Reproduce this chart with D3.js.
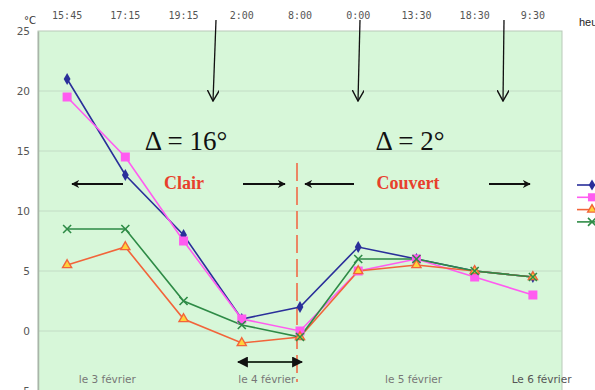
<!DOCTYPE html>
<html><head><meta charset="utf-8">
<script src="https://cdn.jsdelivr.net/npm/d3@7"></script>
<style>body{margin:0;background:#fff}svg{display:block}</style>
</head><body>
<svg id="c" width="595" height="390"></svg>
<script>
const times = ["15:45","17:15","19:15","2:00","8:00","0:00","13:30","18:30","9:30"];
const yTicks = [-5,0,5,10,15,20,25];
const dayLabels = ["le 3 février","le 4 février","le 5 février","Le 6 février"];
const dayPos = [1.19,3.93,6.45,8.65];
const seriesBlue = [21,13,8,1,2,7,6,5,4.5];
const seriesPink = [19.5,14.5,7.5,1,0,5,6,4.5,3];
const seriesOrange = [5.5,7,1,-1,-0.5,5,5.5,5,4.5];
const seriesGreen = [8.5,8.5,2.5,0.5,-0.5,6,6,5,4.5];
const series = [
  {name:"blue", values:seriesBlue, color:"#2a2f9a", marker:"diamond"},
  {name:"pink", values:seriesPink, color:"#ff5cf0", marker:"square"},
  {name:"orange", values:seriesOrange, color:"#f2643a", marker:"triangle"},
  {name:"green", values:seriesGreen, color:"#2e8b46", marker:"cross"}
];

const svg = d3.select("#c");
const L=38, R=562, T=31, B=391;
const x = d3.scaleBand().domain(d3.range(times.length)).range([L,R]);
const xc = i => x(i)+x.bandwidth()/2;
const xl = d3.scaleLinear().domain([0,times.length]).range([L,R]);
const y = d3.scaleLinear().domain([-5,25]).range([B,T]);

svg.append("defs").html(`
<marker id="ah" viewBox="0 0 10 10" refX="9" refY="5" markerWidth="8" markerHeight="8" orient="auto-start-reverse" markerUnits="userSpaceOnUse"><path d="M0,0 L10,5 L0,10 L3,5 Z" fill="#111"/></marker>
<marker id="ah2" viewBox="0 0 10 10" refX="9" refY="5" markerWidth="11" markerHeight="11" orient="auto-start-reverse" markerUnits="userSpaceOnUse"><path d="M0,0 L10,5 L0,10 Z" fill="#111"/></marker>
<marker id="av" viewBox="0 0 10 10" refX="9" refY="5" markerWidth="12" markerHeight="12" orient="auto" markerUnits="userSpaceOnUse"><path d="M0,0 L9,5 L0,10" fill="none" stroke="#111" stroke-width="1.2"/></marker>`);

// plot background
svg.append("rect").attr("x",L).attr("y",T).attr("width",R-L).attr("height",B-T)
  .attr("fill","#d7f7d9").attr("stroke","#b9c9b9").attr("stroke-width",1);
// grid
svg.append("g").selectAll("line").data(yTicks.filter(d=>d>-5&&d<25)).join("line")
  .attr("x1",L).attr("x2",R).attr("y1",d=>y(d)).attr("y2",d=>y(d))
  .attr("stroke","#c3dcc5").attr("stroke-width",1);
// left axis
const yAxis = svg.append("g").attr("transform",`translate(${L},0)`)
  .call(d3.axisLeft(y).tickValues(yTicks).tickSize(0).tickPadding(8));
yAxis.select(".domain").attr("stroke","#a9b5a9").attr("stroke-width",1.5);
yAxis.selectAll("text").attr("fill","#555").attr("font-family","DejaVu Sans").attr("font-size",10.5);
svg.append("text").attr("x",24).attr("y",24).text("°C").attr("font-family","DejaVu Sans").attr("font-size",10).attr("fill","#333");

// top time labels
const topAxis = svg.append("g").attr("transform","translate(0,19)")
  .call(d3.axisTop(x).tickFormat(i=>times[i]).tickSize(0).tickPadding(0));
topAxis.select(".domain").remove();
topAxis.selectAll("text").attr("fill","#555").attr("font-family","DejaVu Sans Mono, DejaVu Sans").attr("font-size",10);
svg.append("text").attr("x",579).attr("y",26).text("heure").attr("font-family","Liberation Sans").attr("font-size",11).attr("fill","#222");

// bottom day labels
svg.append("g").selectAll("text").data(dayLabels).join("text")
  .attr("x",(d,i)=>xl(dayPos[i])).attr("y",383).attr("text-anchor","middle")
  .attr("font-family","DejaVu Sans").attr("font-size",10.5)
  .attr("fill",(d,i)=>i===3?"#555":"#777").text(d=>d);

// red dashed separator
svg.append("line").attr("x1",297).attr("x2",297).attr("y1",y(14)).attr("y2",382)
  .attr("stroke","#f06a48").attr("stroke-width",1.6).attr("stroke-dasharray","18,6");

// lines
const line = d3.line().x((d,i)=>xc(i)).y(d=>y(d));
const g = svg.append("g");
series.forEach(s=>{
  g.append("path").attr("d",line(s.values)).attr("fill","none").attr("stroke",s.color).attr("stroke-width",1.6);
});
function drawMarker(sel, s, cx, cy, sc){
  sc = sc||1;
  if(s.marker==="diamond") sel.append("path").attr("d",d3.symbol(d3.symbolDiamond,40*sc)()).attr("transform",`translate(${cx},${cy})`).attr("fill",s.color);
  else if(s.marker==="square") sel.append("rect").attr("x",cx-4.5*sc).attr("y",cy-4.5*sc).attr("width",9*sc).attr("height",9*sc).attr("fill",s.color);
  else if(s.marker==="triangle") sel.append("path").attr("d",d3.symbol(d3.symbolTriangle,36*sc)()).attr("transform",`translate(${cx},${cy})`).attr("fill","#ffd23a").attr("stroke",s.color).attr("stroke-width",1.4);
  else sel.append("path").attr("d",`M${cx-4},${cy-4}L${cx+4},${cy+4}M${cx-4},${cy+4}L${cx+4},${cy-4}`).attr("stroke",s.color).attr("stroke-width",1.6);
}
series.forEach(s=>{ s.values.forEach((v,i)=>drawMarker(g,s,xc(i),y(v))); });

// vertical arrows from top
const va = [[216,213],[360,358],[504,503]];
va.forEach(a=>svg.append("line").attr("x1",a[0]).attr("y1",20).attr("x2",a[1]).attr("y2",101)
  .attr("stroke","#111").attr("stroke-width",1.3).attr("marker-end","url(#av)"));

// delta texts
svg.append("text").attr("x",186).attr("y",150).attr("text-anchor","middle").text("Δ = 16°")
  .attr("font-family","Liberation Serif").attr("font-size",27).attr("fill","#111");
svg.append("text").attr("x",410).attr("y",150).attr("text-anchor","middle").text("Δ = 2°")
  .attr("font-family","Liberation Serif").attr("font-size",27).attr("fill","#111");
svg.append("text").attr("x",184).attr("y",189).attr("text-anchor","middle").text("Clair")
  .attr("font-family","Liberation Serif").attr("font-weight","bold").attr("font-size",18).attr("fill","#e8402c");
svg.append("text").attr("x",408).attr("y",189).attr("text-anchor","middle").text("Couvert")
  .attr("font-family","Liberation Serif").attr("font-weight","bold").attr("font-size",18).attr("fill","#e8402c");

// horizontal arrows
const ha = [[123,72],[243,285],[354,305],[489,530]];
ha.forEach(a=>svg.append("line").attr("x1",a[0]).attr("y1",184).attr("x2",a[1]).attr("y2",184)
  .attr("stroke","#111").attr("stroke-width",2.2).attr("marker-end","url(#ah)"));

// double arrow at bottom
svg.append("line").attr("x1",238).attr("x2",302).attr("y1",362).attr("y2",362)
  .attr("stroke","#2a3a2a").attr("stroke-width",1.8).attr("marker-start","url(#ah2)").attr("marker-end","url(#ah2)");

// legend (cut off at right)
const lg = svg.append("g");
series.forEach((s,i)=>{
  const ly = 185 + i*12.3;
  lg.append("line").attr("x1",577).attr("x2",595).attr("y1",ly).attr("y2",ly).attr("stroke",s.color).attr("stroke-width",1.6);
  drawMarker(lg,s,592,ly,0.9);
});
</script>
</body></html>
